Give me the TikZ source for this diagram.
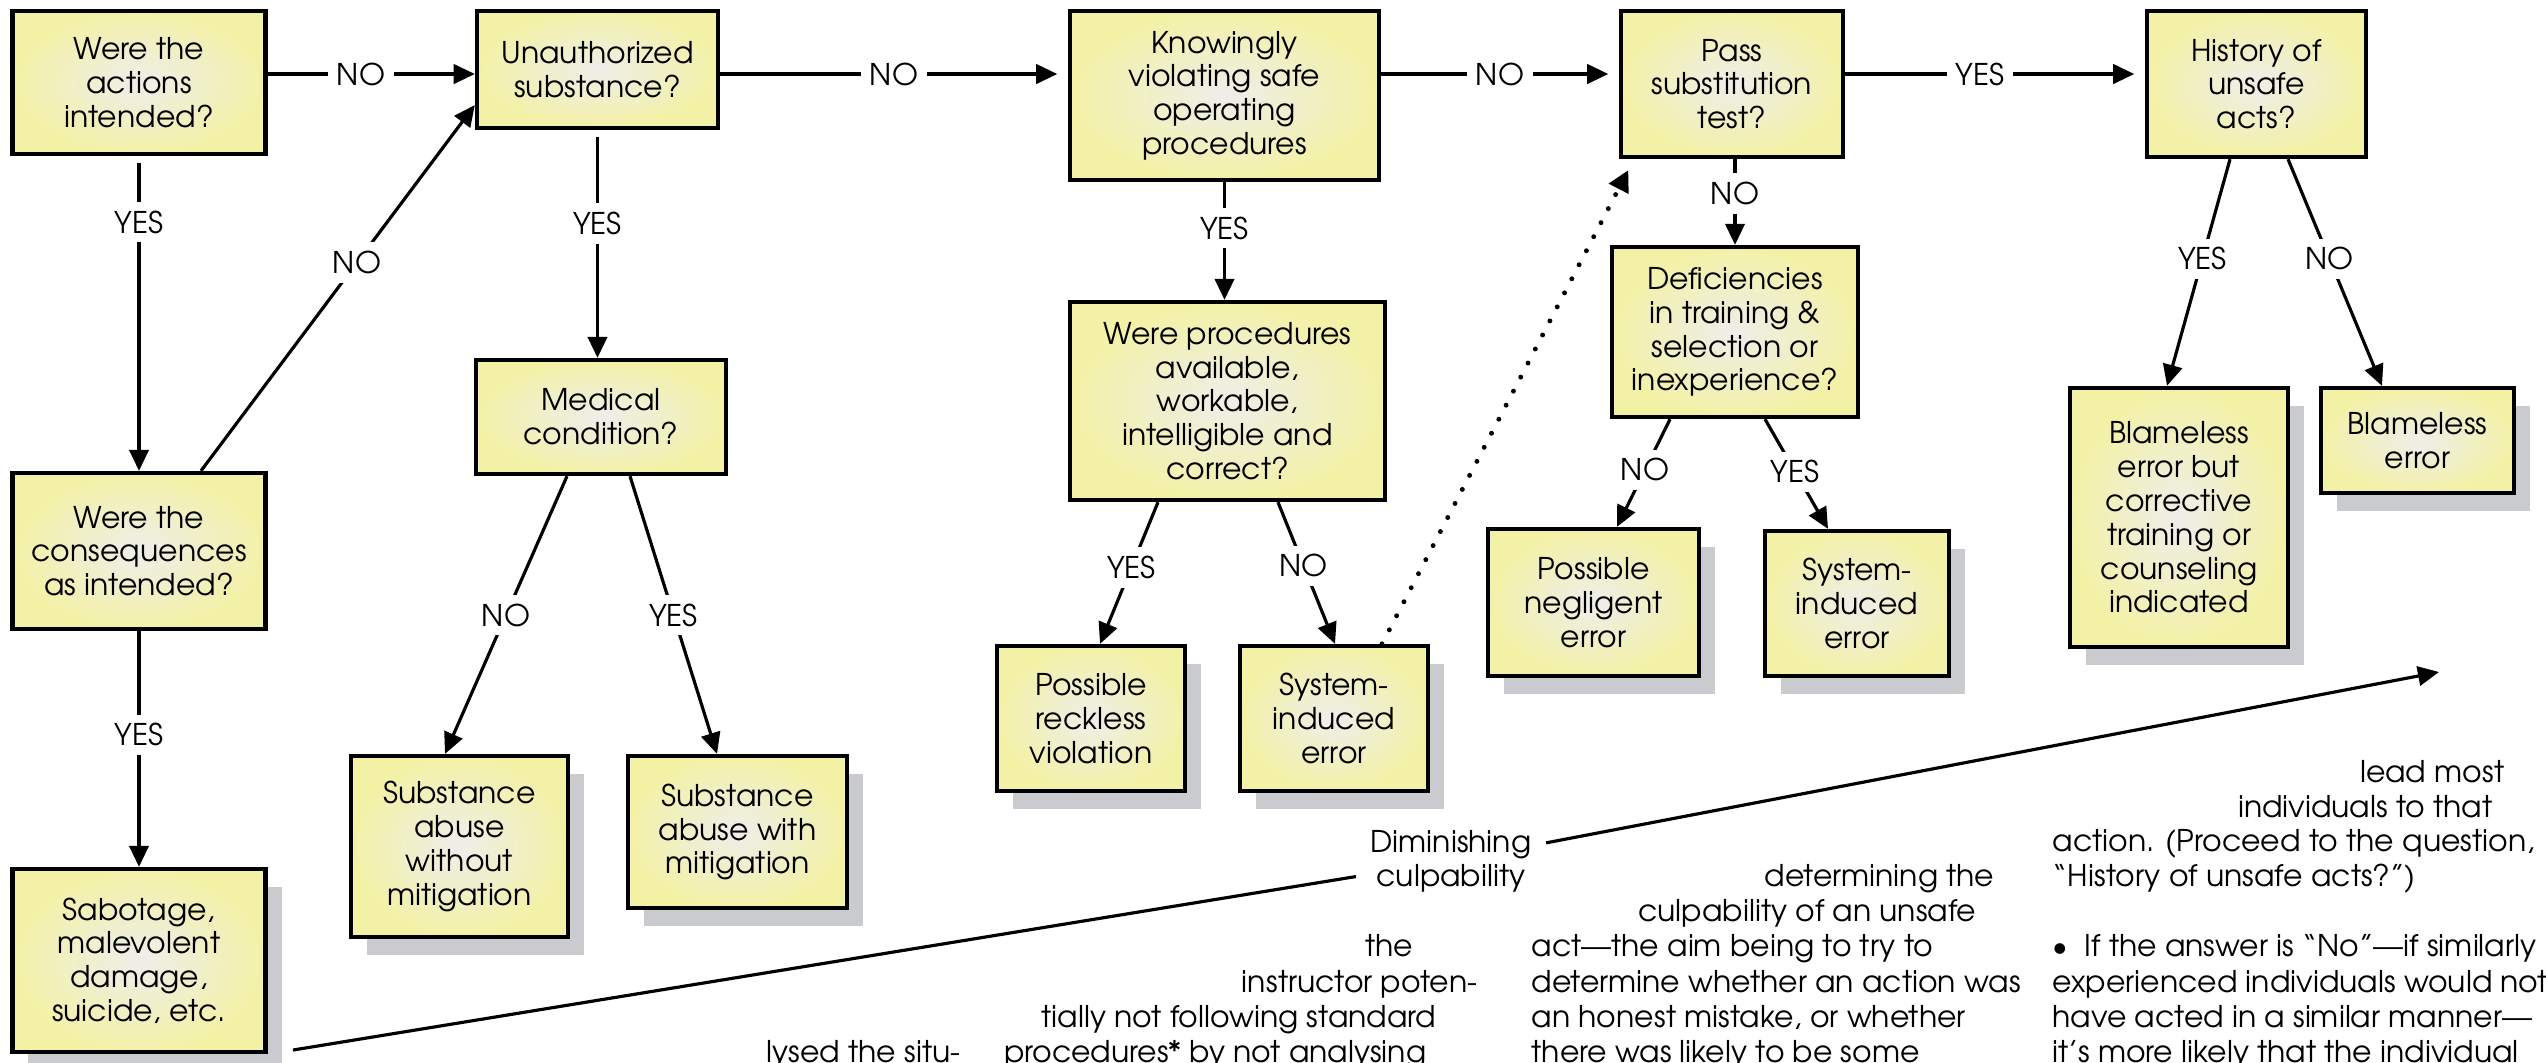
\documentclass[tikz,border=0pt]{standalone}
\usepackage{fontspec}
\setmainfont{TeX Gyre Adventor}
\usetikzlibrary{arrows.meta, shadows, calc}

\definecolor{boxyellow}{RGB}{243,241,166}
\definecolor{boxcentre}{RGB}{238,238,234}
\definecolor{shadowgrey}{RGB}{202,203,206}

\begin{document}
\begin{tikzpicture}[x=0.01cm, y=-0.01cm, font=\fontsize{8.5}{9.6}\selectfont]

\tikzstyle{question} = [rectangle, draw, line width=1.2pt, inner sep=0pt,
  align=center, shading=radial, inner color=boxcentre, outer color=boxyellow]
\tikzstyle{outcome}  = [question, drop shadow={shadow xshift=0.16cm,
  shadow yshift=-0.18cm, fill=shadowgrey, opacity=1}]
\tikzstyle{flow}     = [-{Triangle[length=6pt,width=5.5pt]}, line width=0.9pt]
\tikzstyle{answer}   = [fill=white, inner sep=2.5pt]
\tikzstyle{hint}     = [-{Triangle[length=6pt,width=6pt]}, line width=1.4pt,
  line cap=round, dash pattern=on 0pt off 4.5pt, shorten >=3.5pt]
\tikzstyle{bodytext} = [inner sep=0pt]

\useasboundingbox (0,0) rectangle (2546,1062);

\coordinate (row) at (0,74);

% questions
\node[question, minimum width=2.53cm, minimum height=1.43cm] (A) at (139,82.5) {Were the\\actions\\intended?};
\node[question, minimum width=2.41cm, minimum height=1.17cm] (B) at (597.5,69.5) {Unauthorized\\substance?};
\node[question, minimum width=3.09cm, minimum height=1.69cm] (C) at (1224.5,95.5) {Knowingly\\violating safe\\operating\\procedures};
\node[question, minimum width=2.22cm, minimum height=1.46cm] (D) at (1732,84) {Pass\\substitution\\test?};
\node[question, minimum width=2.19cm, minimum height=1.46cm] (E) at (2256.5,84) {History of\\unsafe\\acts?};
\node[question, minimum width=2.53cm, minimum height=1.56cm] (F) at (139,551) {Were the\\consequences\\as intended?};
\node[question, minimum width=2.50cm, minimum height=1.14cm] (H) at (601,417) {Medical\\condition?};
\node[question, minimum width=3.15cm, minimum height=1.98cm] (K) at (1227.5,401) {Were procedures\\available,\\workable,\\intelligible and\\correct?};
\node[question, minimum width=2.46cm, minimum height=1.70cm] (N) at (1735,332) {Deficiencies\\in training \&\\selection or\\inexperience?};

% outcomes
\node[outcome, minimum width=2.53cm, minimum height=1.83cm] (G) at (139,960.5) {Sabotage,\\malevolent\\damage,\\suicide, etc.};
\node[outcome, minimum width=2.17cm, minimum height=1.81cm] (I) at (459.5,846.5) {Substance\\abuse\\without\\mitigation};
\node[outcome, minimum width=2.19cm, minimum height=1.52cm] (J) at (737.5,832) {Substance\\abuse with\\mitigation};
\node[outcome, minimum width=1.88cm, minimum height=1.45cm] (L) at (1091,718.5) {Possible\\reckless\\violation};
\node[outcome, minimum width=1.88cm, minimum height=1.45cm] (M) at (1334,718.5) {System-\\induced\\error};
\node[outcome, minimum width=2.11cm, minimum height=1.47cm] (O) at (1593.5,602.5) {Possible\\negligent\\error};
\node[outcome, minimum width=1.84cm, minimum height=1.45cm] (P) at (1857,603.5) {System-\\induced\\error};
\node[outcome, minimum width=2.18cm, minimum height=2.59cm] (Q) at (2179,517.5) {Blameless\\error but\\corrective\\training or\\counseling\\indicated};
\node[outcome, minimum width=1.93cm, minimum height=1.05cm] (R) at (2417.5,440.5) {Blameless\\error};

% top row
\draw[flow] (A.east |- row) -- node[answer, pos=.45] {NO} (B.west |- row);
\draw[flow, shorten >=3pt] (B.east |- row) -- node[answer] {NO} (C.west |- row);
\draw[flow, shorten >=3pt] (C.east |- row) -- node[answer] {NO} (D.west |- row);
\draw[flow, shorten >=3pt] (D.east |- row) -- node[answer, pos=.45] {YES} (E.west |- row);

% downwards
\draw[flow, shorten <=2pt] (A.south) -- node[answer, pos=.21] {YES} (F.north);
\draw[flow] (F.north -| 201,0) -- node[answer, pos=.57] {NO} (B.west |- 0,105);
\draw[flow] (F.south) -- node[answer, pos=.44] {YES} (G.north);
\draw[flow, shorten <=2pt] (B.south) -- node[answer, pos=.41] {YES} (B.south |- H.north);
\draw[flow] (H.south -| 567,0) -- node[answer] {NO} (I.north -| 445,0);
\draw[flow] (H.south -| 630,0) -- node[answer] {YES} (J.north -| 717,0);
\draw[flow] (C.south) -- node[answer, pos=.39] {YES} (C.south |- K.north);
\draw[flow] (K.south -| 1158,0) -- node[answer, pos=.46] {YES} (L.north -| 1100,0);
\draw[flow] (K.south -| 1278,0) -- node[answer, pos=.45] {NO} (M.north -| 1335,0);
\draw[hint] (M.north -| 1382,0) -- (D.south -| 1634,0);
\draw[flow] (D.south -| N.north) -- node[answer, pos=.4] {NO} (N.north);
\draw[flow] (N.south -| 1670,0) -- node[answer, pos=.47] {NO} (O.north -| 1617,0);
\draw[flow] (N.south -| 1765,0) -- node[answer, pos=.48] {YES} (P.north -| 1828,0);
\draw[flow] (E.south -| 2230,0) -- node[answer, pos=.44] {YES} (Q.north -| 2167,0);
\draw[flow] (E.south -| 2288,0) -- node[answer, pos=.44] {NO} (R.north -| 2382,0);

% culpability arrow
\coordinate (dimstart) at (293,1050);
\coordinate (dimend) at (2439,672);
\node[align=center, inner sep=4pt] (dim) at (1451,861) {Diminishing\\culpability};
\draw[flow] (dimstart) -- (dim) -- (dimend);

% text showing through below
\node[bodytext, anchor=base east] (t1) at (2505,782) {lead most};
\node[bodytext, anchor=base east] (t2) at (2493,817) {individuals to that};
\node[bodytext, anchor=base west] (t3) at (2052,851) {action. (Proceed to the question,};
\node[bodytext, anchor=base west] (t4) at (2052,886) {“History of unsafe acts?”)};
\node[bodytext, anchor=base west] (t5) at (2052,956) {\textbullet\ \ If the answer is “No”—if similarly};
\node[bodytext, anchor=base west] (t6) at (2052,992) {experienced individuals would not};
\node[bodytext, anchor=base west] (t7) at (2052,1027) {have acted in a similar manner—};
\node[bodytext, anchor=base west] (t8) at (2052,1062) {it’s more likely that the individual};

\node[bodytext, anchor=base east] (t9) at (1995,886) {determining the};
\node[bodytext, anchor=base east] (t10) at (1977,921) {culpability of an unsafe};
\node[bodytext, anchor=base west] (t11) at (1531,956) {act—the aim being to try to};
\node[bodytext, anchor=base west] (t12) at (1531,992) {determine whether an action was};
\node[bodytext, anchor=base west] (t13) at (1531,1027) {an honest mistake, or whether};
\node[bodytext, anchor=base west] (t14) at (1531,1062) {there was likely to be some};

\node[bodytext, anchor=base east] (t15) at (1414,956) {the};
\node[bodytext, anchor=base east] (t16) at (1478,992) {instructor poten-};
\node[bodytext, anchor=base east] (t17) at (1437,1027) {tially not following standard};
\node[bodytext, anchor=base east] (t18) at (1427,1062) {procedures* by not analysing};
\node[bodytext, anchor=base east] (t19) at (961,1062) {lysed the situ-};

\end{tikzpicture}
\end{document}
